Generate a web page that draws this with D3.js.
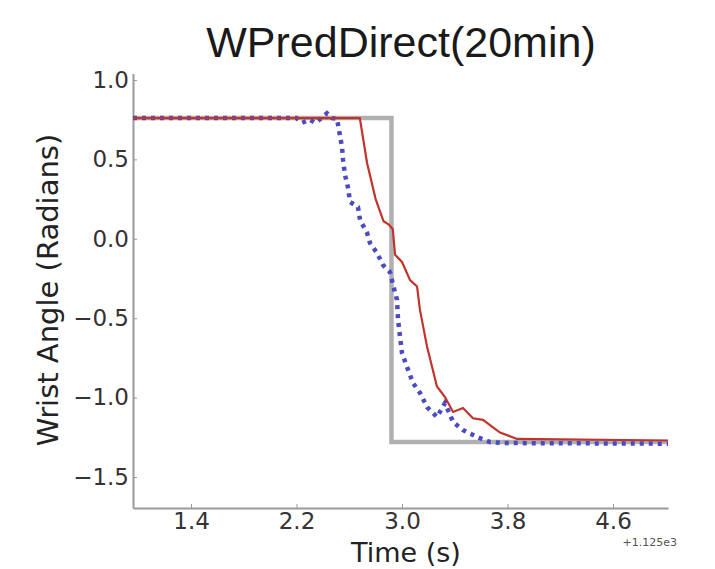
<!DOCTYPE html>
<html>
<head>
<meta charset="utf-8">
<script src="https://cdn.jsdelivr.net/npm/d3@7"></script>
<style>
  html, body { margin: 0; padding: 0; background: #fff; }
  svg { display: block; }
</style>
</head>
<body>
<svg id="chart" width="715" height="569"></svg>
<script>
// Time is shown relative to an offset of 1125 s (axis offset text "+1.125e3").
const timeOffsetLabel = "+1.125e3";

// Target wrist angle (step command)
const targetTime  = [0.96, 2.92, 2.92, 5.017];
const targetAngle = [0.76, 0.76, -1.28, -1.28];

// Decoded (predicted) wrist angle
const predTime  = [0.96, 2.68, 2.735, 2.80, 2.86, 2.90, 2.93, 2.947, 3.0, 3.061, 3.114, 3.136, 3.19, 3.265, 3.326, 3.387, 3.462, 3.538, 3.614, 3.743, 3.872, 5.017];
const predAngle = [0.76, 0.76, 0.477, 0.25, 0.11, 0.09, 0.06, -0.10, -0.146, -0.26, -0.30, -0.448, -0.68, -0.93, -0.996, -1.09, -1.065, -1.13, -1.14, -1.22, -1.26, -1.27];

// Measured wrist angle
const measTime  = [0.96, 2.2, 2.242, 2.3, 2.34, 2.39, 2.431, 2.47, 2.507, 2.522, 2.545, 2.553, 2.568, 2.591, 2.606, 2.666, 2.682, 2.735, 2.757, 2.81, 2.856, 2.909, 2.932, 2.962, 2.97, 2.985, 3.0, 3.038, 3.083, 3.136, 3.19, 3.265, 3.326, 3.387, 3.462, 3.568, 3.667, 3.766, 5.017];
const measAngle = [0.76, 0.76, 0.73, 0.75, 0.73, 0.76, 0.79, 0.76, 0.755, 0.685, 0.578, 0.496, 0.40, 0.32, 0.232, 0.20, 0.118, 0.037, -0.026, -0.089, -0.165, -0.21, -0.29, -0.385, -0.51, -0.618, -0.72, -0.807, -0.908, -0.97, -1.06, -1.122, -1.034, -1.154, -1.204, -1.248, -1.28, -1.286, -1.29];

const xTicks = [1.4, 2.2, 3.0, 3.8, 4.6];
const yTicks = [1.0, 0.5, 0.0, -0.5, -1.0, -1.5];

const titleText = "WPredDirect(20min)";
const xLabel = "Time (s)";
const yLabel = "Wrist Angle (Radians)";

const svg = d3.select("#chart");
const plot = { left: 133, right: 668, top: 73.6, bottom: 508 };

const x = d3.scaleLinear().domain([0.96, 5.017]).range([plot.left, plot.right]);
const y = d3.scaleLinear().domain([-1.695, 1.04]).range([plot.bottom, plot.top]);

const fmt = d => d3.format(".1f")(d).replace("-", "\u2212");

// Axes: left and bottom spines with short inward ticks
const xAxis = d3.axisBottom(x).tickValues(xTicks).tickFormat(fmt).tickSizeInner(-4).tickSizeOuter(0).tickPadding(5);
const yAxis = d3.axisLeft(y).tickValues(yTicks).tickFormat(fmt).tickSizeInner(-4).tickSizeOuter(0).tickPadding(4);

const gx = svg.append("g").attr("transform", `translate(0,${plot.bottom})`).call(xAxis);
const gy = svg.append("g").attr("transform", `translate(${plot.left},0)`).call(yAxis);

[gx, gy].forEach(g => {
  g.select(".domain").attr("stroke", "#9a9a9a").attr("stroke-width", 2);
  g.selectAll(".tick line").attr("stroke", "#9a9a9a").attr("stroke-width", 1);
  g.selectAll(".tick text")
    .attr("font-family", "DejaVu Sans")
    .attr("font-size", 23)
    .attr("fill", "#333");
});

const line = d3.line().x(d => x(d[0])).y(d => y(d[1]));
const zip = (a, b) => a.map((v, i) => [v, b[i]]);

svg.append("path")
  .datum(zip(targetTime, targetAngle))
  .attr("d", line)
  .attr("fill", "none")
  .attr("stroke", "#b0b0b0")
  .attr("stroke-width", 4.5);

svg.append("path")
  .datum(zip(measTime, measAngle))
  .attr("d", line)
  .attr("fill", "none")
  .attr("stroke", "#4a4ac2")
  .attr("stroke-width", 4.5)
  .attr("stroke-dasharray", "4,5");

svg.append("path")
  .datum(zip(predTime, predAngle))
  .attr("d", line)
  .attr("fill", "none")
  .attr("stroke", "#c0342c")
  .attr("stroke-width", 2.2);

// Title and axis labels
svg.append("text")
  .attr("x", 401).attr("y", 57)
  .attr("text-anchor", "middle")
  .attr("font-family", "Liberation Sans, Arial, sans-serif")
  .attr("font-size", 43)
  .attr("fill", "#1a1a1a")
  .text(titleText);

svg.append("text")
  .attr("x", 406).attr("y", 562)
  .attr("text-anchor", "middle")
  .attr("font-family", "DejaVu Sans")
  .attr("font-size", 27)
  .attr("fill", "#222")
  .text(xLabel);

svg.append("text")
  .attr("transform", "translate(58,290) rotate(-90)")
  .attr("text-anchor", "middle")
  .attr("font-family", "DejaVu Sans")
  .attr("font-size", 29)
  .attr("fill", "#222")
  .text(yLabel);

svg.append("text")
  .attr("x", 677).attr("y", 546)
  .attr("text-anchor", "end")
  .attr("font-family", "DejaVu Sans")
  .attr("font-size", 11)
  .attr("fill", "#555")
  .text(timeOffsetLabel);
</script>
</body>
</html>
